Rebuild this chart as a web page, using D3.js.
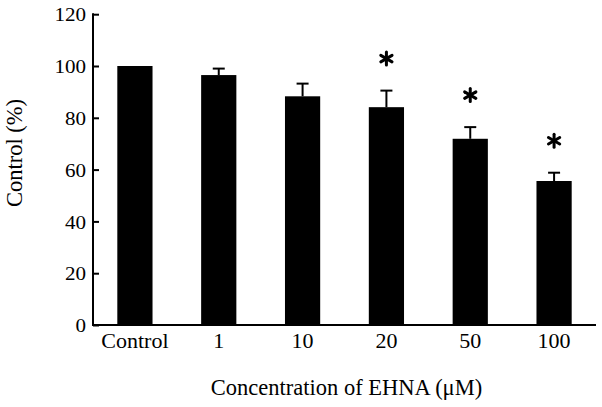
<!DOCTYPE html>
<html>
<head>
<meta charset="utf-8">
<script src="https://cdn.jsdelivr.net/npm/d3@7"></script>
<style>
  html, body { margin: 0; padding: 0; background: #fff; }
  svg { display: block; }
  text { font-family: "Liberation Serif", "Times New Roman", serif; fill: #000; }
</style>
</head>
<body>
<svg id="chart" width="602" height="407"></svg>
<script>
const categories = ["Control", "1", "10", "20", "50", "100"];
const means = [100, 96.5, 88.3, 84.1, 71.9, 55.6];
const errors = [0, 2.5, 4.9, 6.4, 4.5, 3.2];
const significant = [false, false, false, true, true, true];
const yTicks = [0, 20, 40, 60, 80, 100, 120];
const xTitle = "Concentration of EHNA (\u03BCM)";
const yTitle = "Control (%)";

const svg = d3.select("#chart");
const plotLeft = 93, plotRight = 596, plotTop = 14.2, plotBottom = 325;

const x = d3.scaleBand().domain(categories).range([plotLeft, plotRight])
  .paddingInner(0.58).paddingOuter(0.29);
const y = d3.scaleLinear().domain([0, 120]).range([plotBottom, plotTop]);

const data = categories.map((c, i) => ({c, m: means[i], e: errors[i], s: significant[i]}));

// bars
svg.append("g").selectAll("rect").data(data).join("rect")
  .attr("x", d => x(d.c))
  .attr("y", d => y(d.m))
  .attr("width", x.bandwidth())
  .attr("height", d => y(0) - y(d.m))
  .attr("fill", "#000");

// error bars
const eb = svg.append("g").attr("stroke", "#000").attr("stroke-width", 2);
data.filter(d => d.e > 0).forEach(d => {
  const cx = x(d.c) + x.bandwidth() / 2;
  eb.append("line").attr("x1", cx).attr("x2", cx).attr("y1", y(d.m)).attr("y2", y(d.m + d.e));
  eb.append("line").attr("x1", cx - 6).attr("x2", cx + 6).attr("y1", y(d.m + d.e)).attr("y2", y(d.m + d.e));
});

// asterisks
const star = svg.append("g").attr("stroke", "#000").attr("stroke-width", 3).attr("stroke-linecap", "round");
data.filter(d => d.s).forEach(d => {
  const cx = x(d.c) + x.bandwidth() / 2;
  const cy = y(d.m + d.e) - 32;
  const g = star.append("g").attr("transform", `translate(${cx},${cy})`);
  [90, 30, 150].forEach(a => {
    const r = 6.5, rad = a * Math.PI / 180;
    g.append("line")
      .attr("x1", -r * Math.cos(rad)).attr("y1", -r * Math.sin(rad))
      .attr("x2", r * Math.cos(rad)).attr("y2", r * Math.sin(rad));
  });
});

// y axis
const yAxis = svg.append("g").attr("transform", `translate(${plotLeft},0)`)
  .call(d3.axisLeft(y).tickValues(yTicks).tickSize(-6).tickSizeOuter(0).tickPadding(0));
yAxis.select(".domain").attr("stroke", "#000").attr("stroke-width", 2).attr("d", `M0,${plotBottom}V${plotTop - 1}`);
yAxis.selectAll(".tick line").attr("stroke", "#000").attr("stroke-width", 2);
yAxis.selectAll(".tick text")
  .attr("x", -7 / 1.08)
  .attr("dy", "0.34em")
  .attr("transform", "scale(1.08,1)")
  .style("font-family", "'Liberation Serif', serif")
  .style("font-size", "19.5px")
  .attr("text-anchor", "end");

// x axis
const xAxis = svg.append("g").attr("transform", `translate(0,${plotBottom})`)
  .call(d3.axisBottom(x).tickSize(0).tickSizeOuter(0).tickPadding(0));
xAxis.select(".domain").attr("stroke", "#000").attr("stroke-width", 2).attr("d", `M${plotLeft - 1},0H${plotRight}`);
xAxis.selectAll(".tick text")
  .attr("y", 23).attr("dy", 0)
  .style("font-family", "'Liberation Serif', serif")
  .style("font-size", "22px");

// titles
svg.append("text")
  .attr("x", (plotLeft + plotRight) / 2 + 2).attr("y", 395)
  .attr("text-anchor", "middle")
  .style("font-size", "22.5px")
  .text(xTitle);

svg.append("text")
  .attr("transform", "translate(22,153) rotate(-90)")
  .attr("text-anchor", "middle")
  .style("font-size", "22.5px")
  .text(yTitle);
</script>
</body>
</html>
